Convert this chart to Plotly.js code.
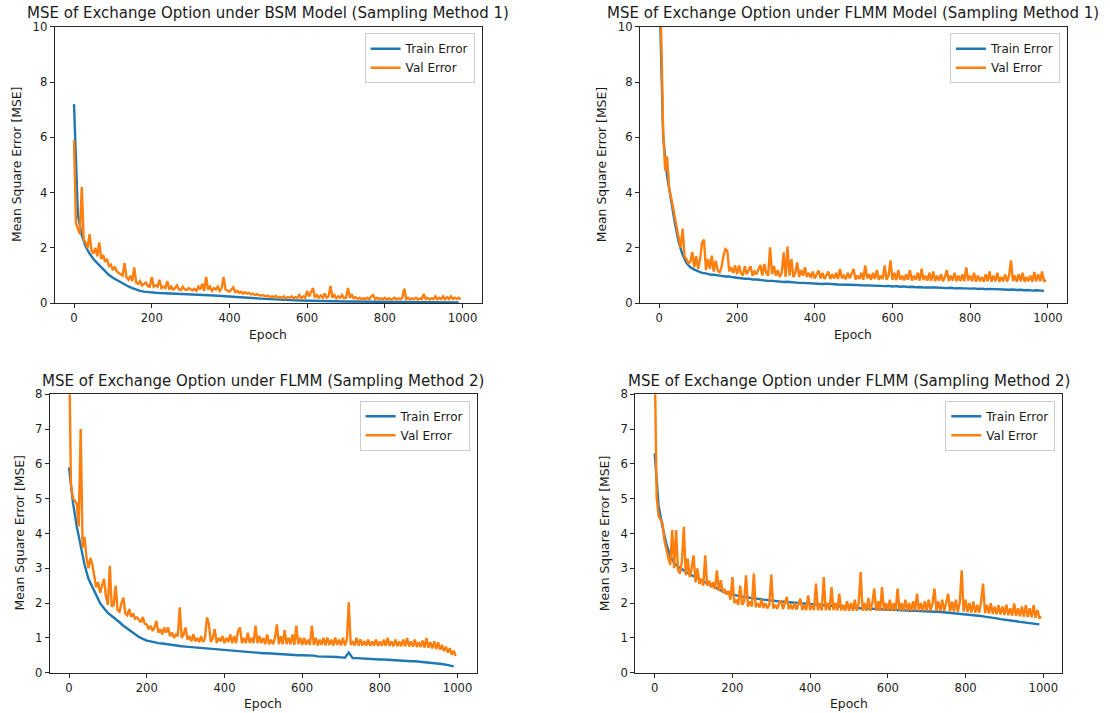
<!DOCTYPE html>
<html>
<head>
<meta charset="utf-8">
<script src="https://cdn.plot.ly/plotly-3.0.1.min.js"></script>
<style>
  html, body { margin: 0; padding: 0; background: #ffffff; }
  #chart { width: 1110px; height: 713px; }
</style>
</head>
<body>
<div id="chart"></div>
<script>
// ---------------- DATA ----------------
const panelTitles = [
  "MSE of Exchange Option under BSM Model (Sampling Method 1)",
  "MSE of Exchange Option under FLMM Model (Sampling Method 1)",
  "MSE of Exchange Option under FLMM (Sampling Method 2)",
  "MSE of Exchange Option under FLMM (Sampling Method 2)"
];
const seriesNames = ["Train Error", "Val Error"];
const xTickVals = [0, 200, 400, 600, 800, 1000];
const yTicksTop = [0, 2, 4, 6, 8, 10];
const yTicksBottom = [0, 1, 2, 3, 4, 5, 6, 7, 8];

// epochs at which values were read (val every 5 epochs, train every 10 epochs)
const epochsVal = Array.from({length: 200}, (_, i) => i * 5);
const epochsTrain = Array.from({length: 100}, (_, i) => i * 10);

// Panel 1: BSM, Sampling Method 1
const trainBSM1 = [
  7.2, 3.2, 2.45, 2.05, 1.8, 1.6, 1.45, 1.3, 1.15, 1.02,
  0.92, 0.84, 0.76, 0.68, 0.61, 0.55, 0.49, 0.45, 0.42, 0.4,
  0.39, 0.38, 0.37, 0.365, 0.355, 0.35, 0.345, 0.335, 0.33, 0.325,
  0.315, 0.31, 0.305, 0.3, 0.29, 0.285, 0.28, 0.272, 0.265, 0.26,
  0.25, 0.24, 0.23, 0.22, 0.21, 0.2, 0.19, 0.18, 0.17, 0.16,
  0.155, 0.15, 0.14, 0.13, 0.125, 0.12, 0.11, 0.105, 0.1, 0.095,
  0.09, 0.088, 0.085, 0.082, 0.08, 0.078, 0.075, 0.072, 0.07, 0.068,
  0.066, 0.064, 0.062, 0.06, 0.058, 0.056, 0.055, 0.054, 0.052, 0.05,
  0.049, 0.048, 0.047, 0.046, 0.045, 0.044, 0.043, 0.042, 0.041, 0.04,
  0.039, 0.038, 0.037, 0.036, 0.035, 0.034, 0.033, 0.032, 0.031, 0.03
];
const valBSM1 = [
  5.9, 2.9, 2.7, 2.5, 4.2, 2.3, 2.2, 2.0, 2.5, 1.9, 1.8, 2.0, 1.7, 2.2, 1.6, 1.75, 1.5, 1.6, 1.35, 1.4,
  1.2, 1.33, 1.15, 1.1, 1.05, 1.0, 1.45, 0.95, 0.85, 1.0, 0.8, 1.3, 0.75, 0.7, 0.8, 0.65, 0.7, 0.75, 0.62, 0.6,
  0.95, 0.6, 0.65, 0.6, 0.85, 0.55, 0.6, 0.55, 0.8, 0.5, 0.6, 0.5, 0.55, 0.65, 0.5, 0.48, 0.6, 0.5, 0.48, 0.55,
  0.5, 0.47, 0.52, 0.45, 0.6, 0.5, 0.7, 0.45, 0.95, 0.5, 0.6, 0.45, 0.55, 0.5, 0.6, 0.45, 0.55, 0.95, 0.5, 0.45,
  0.42, 0.5, 0.58, 0.4, 0.45, 0.38, 0.42, 0.35, 0.4, 0.35, 0.38, 0.32, 0.35, 0.3, 0.33, 0.3, 0.28, 0.3, 0.27, 0.25,
  0.28, 0.22, 0.25, 0.22, 0.27, 0.2, 0.22, 0.2, 0.25, 0.18, 0.22, 0.2, 0.25, 0.18, 0.22, 0.2, 0.3, 0.18, 0.25, 0.2,
  0.45, 0.25, 0.4, 0.55, 0.2, 0.3, 0.2, 0.28, 0.2, 0.35, 0.2, 0.25, 0.63, 0.2, 0.3, 0.18, 0.25, 0.2, 0.3, 0.18,
  0.2, 0.55, 0.2, 0.3, 0.18, 0.22, 0.15, 0.2, 0.15, 0.18, 0.15, 0.2, 0.15, 0.25, 0.3, 0.15, 0.2, 0.15, 0.18, 0.15,
  0.2, 0.14, 0.18, 0.14, 0.16, 0.2, 0.14, 0.18, 0.15, 0.2, 0.53, 0.15, 0.2, 0.14, 0.18, 0.15, 0.2, 0.14, 0.18, 0.15,
  0.34, 0.15, 0.2, 0.14, 0.18, 0.15, 0.25, 0.14, 0.2, 0.15, 0.25, 0.14, 0.22, 0.15, 0.25, 0.15, 0.2, 0.15, 0.2, 0.15
];

// Panel 2: FLMM Model, Sampling Method 1
const trainFLMM1 = [
  11.5, 6.0, 4.6, 3.7, 2.9, 2.2, 1.75, 1.45, 1.3, 1.22,
  1.15, 1.1, 1.08, 1.04, 1.03, 1.0, 0.99, 0.97, 0.97, 0.94,
  0.92, 0.92, 0.89, 0.89, 0.86, 0.86, 0.84, 0.84, 0.81, 0.81,
  0.79, 0.79, 0.77, 0.78, 0.76, 0.76, 0.74, 0.74, 0.73, 0.73,
  0.71, 0.72, 0.7, 0.71, 0.69, 0.69, 0.68, 0.68, 0.67, 0.67,
  0.66, 0.66, 0.65, 0.65, 0.64, 0.64, 0.63, 0.63, 0.62, 0.63,
  0.61, 0.62, 0.6, 0.61, 0.59, 0.6, 0.58, 0.59, 0.57, 0.58,
  0.57, 0.57, 0.56, 0.56, 0.55, 0.56, 0.54, 0.55, 0.54, 0.54,
  0.53, 0.54, 0.52, 0.53, 0.51, 0.52, 0.51, 0.51, 0.5, 0.5,
  0.49, 0.5, 0.48, 0.49, 0.47, 0.48, 0.46, 0.47, 0.45, 0.45
];
const valFLMM1 = [
  13.0, 8.9, 6.2, 4.8, 5.3, 4.2, 3.9, 3.5, 3.1, 2.7, 2.3, 2.0, 2.7, 1.7, 1.6, 1.45, 1.5, 1.85, 1.3, 1.7,
  1.25, 1.6, 2.2, 2.3, 1.2, 1.6, 1.25, 1.72, 1.15, 1.54, 1.2, 1.1, 1.3, 1.72, 1.96, 1.9, 1.15, 1.3, 1.1, 1.37,
  1.05, 1.37, 1.1, 1.0, 1.34, 1.05, 1.2, 1.34, 1.0, 1.15, 1.05, 1.2, 1.39, 1.0, 1.42, 1.1, 1.0, 2.02, 1.05, 1.35,
  1.0, 1.2, 0.95, 1.1, 1.84, 0.95, 2.05, 1.0, 1.6, 0.95, 1.1, 1.48, 0.95, 1.2, 1.0, 1.3, 0.95, 1.1, 0.92, 1.15,
  0.9, 1.05, 1.18, 0.9, 1.1, 0.88, 1.0, 1.15, 0.88, 1.05, 0.9, 1.1, 0.88, 1.24, 0.9, 1.0, 0.87, 1.1, 0.9, 1.05,
  1.24, 0.86, 1.0, 0.88, 1.1, 0.85, 1.37, 0.9, 1.05, 0.85, 1.1, 0.88, 1.2, 0.85, 1.0, 0.88, 1.37, 0.85, 1.0, 1.55,
  0.85, 1.1, 0.84, 1.2, 0.85, 1.0, 0.83, 1.05, 0.85, 1.2, 0.82, 1.0, 0.85, 1.1, 0.82, 1.25, 0.84, 1.0, 0.82, 1.1,
  0.82, 1.15, 0.8, 1.0, 0.82, 1.05, 0.8, 0.95, 1.2, 0.8, 1.0, 0.82, 1.1, 0.8, 1.0, 0.8, 1.05, 0.8, 1.3, 0.82,
  1.0, 0.8, 1.1, 0.78, 1.0, 0.8, 0.95, 0.78, 1.05, 0.8, 1.15, 0.78, 1.0, 0.8, 1.1, 0.78, 0.95, 0.8, 1.05, 0.78,
  1.0, 1.55, 0.8, 1.0, 0.78, 1.05, 0.8, 1.1, 0.78, 0.95, 0.8, 1.0, 0.78, 1.13, 0.8, 1.05, 0.8, 1.15, 0.78, 0.85
];

// Panel 3: FLMM, Sampling Method 2 (left)
const trainFLMM2a = [
  5.9, 4.9, 4.2, 3.6, 3.1, 2.7, 2.45, 2.2, 2.0, 1.85,
  1.72, 1.63, 1.55, 1.45, 1.35, 1.27, 1.18, 1.1, 1.03, 0.97,
  0.92, 0.9, 0.87, 0.85, 0.84, 0.82, 0.8, 0.79, 0.78, 0.76,
  0.75, 0.74, 0.72, 0.72, 0.7, 0.7, 0.68, 0.68, 0.66, 0.66,
  0.64, 0.64, 0.62, 0.62, 0.6, 0.61, 0.59, 0.59, 0.57, 0.57,
  0.56, 0.56, 0.55, 0.55, 0.53, 0.54, 0.52, 0.52, 0.51, 0.5,
  0.5, 0.5, 0.48, 0.49, 0.47, 0.47, 0.46, 0.46, 0.45, 0.45,
  0.44, 0.43, 0.58, 0.42, 0.42, 0.41, 0.4, 0.41, 0.39, 0.39,
  0.38, 0.38, 0.37, 0.37, 0.35, 0.36, 0.34, 0.34, 0.33, 0.33,
  0.32, 0.31, 0.3, 0.3, 0.28, 0.27, 0.25, 0.23, 0.21, 0.18
];
const valFLMM2a = [
  9.5, 5.4, 5.0, 4.95, 4.85, 4.2, 7.0, 3.6, 3.9, 3.3, 3.0, 3.3, 3.1, 2.7, 2.45, 2.6, 2.3, 2.5, 2.7, 2.2,
  1.95, 3.07, 1.9, 1.95, 2.5, 1.8, 1.75, 2.0, 2.16, 1.7, 1.65, 1.83, 1.6, 1.7, 1.55, 1.59, 1.5, 1.45, 1.6, 1.4,
  1.39, 1.25, 1.35, 1.2, 1.3, 1.49, 1.15, 1.25, 1.1, 1.3, 1.15, 1.3, 1.05, 1.15, 1.0, 1.1, 1.05, 1.88, 1.0, 1.1,
  1.3, 0.95, 1.05, 0.9, 1.1, 0.9, 1.0, 0.88, 1.05, 0.88, 1.0, 1.59, 1.4, 0.88, 1.0, 1.25, 0.85, 1.0, 0.9, 1.05,
  0.85, 1.0, 0.88, 1.1, 0.85, 1.05, 0.85, 1.2, 1.3, 0.85, 1.0, 0.85, 1.15, 0.85, 1.0, 0.85, 1.35, 0.85, 1.05, 0.85,
  1.0, 0.82, 1.1, 0.82, 0.95, 0.82, 1.0, 1.39, 0.82, 1.05, 0.82, 1.22, 0.82, 1.0, 0.82, 1.1, 0.8, 1.35, 0.82, 1.0,
  0.8, 1.0, 0.8, 0.95, 0.8, 1.35, 0.8, 1.0, 0.78, 0.95, 0.8, 1.0, 0.78, 1.01, 0.8, 0.95, 0.78, 1.01, 0.8, 0.95,
  0.78, 1.0, 0.78, 0.95, 2.02, 0.8, 0.9, 0.78, 1.0, 0.78, 0.96, 0.78, 0.9, 0.78, 0.95, 0.77, 0.9, 0.78, 0.95, 0.77,
  0.9, 0.77, 0.95, 0.77, 1.0, 0.77, 0.9, 0.76, 0.95, 0.76, 0.9, 0.76, 0.95, 0.76, 1.0, 0.75, 0.9, 0.75, 0.95, 0.74,
  0.88, 0.74, 0.92, 0.72, 1.0, 0.72, 0.88, 0.7, 0.9, 0.68, 0.87, 0.66, 0.8, 0.62, 0.75, 0.58, 0.7, 0.52, 0.63, 0.48
];

// Panel 4: FLMM, Sampling Method 2 (right)
const trainFLMM2b = [
  6.3, 4.8, 4.2, 3.7, 3.35, 3.15, 3.05, 2.97, 2.9, 2.83,
  2.77, 2.71, 2.65, 2.59, 2.53, 2.47, 2.41, 2.36, 2.31, 2.27,
  2.24, 2.21, 2.19, 2.17, 2.16, 2.14, 2.13, 2.12, 2.1, 2.09,
  2.07, 2.06, 2.05, 2.04, 2.03, 2.02, 2.01, 2.0, 1.99, 1.98,
  1.96, 1.95, 1.94, 1.93, 1.92, 1.91, 1.9, 1.9, 1.89, 1.88,
  1.87, 1.87, 1.86, 1.85, 1.85, 1.84, 1.84, 1.83, 1.82, 1.82,
  1.81, 1.81, 1.8, 1.8, 1.79, 1.79, 1.78, 1.78, 1.77, 1.77,
  1.76, 1.76, 1.75, 1.75, 1.74, 1.74, 1.73, 1.72, 1.71, 1.7,
  1.69, 1.68, 1.66, 1.65, 1.63, 1.61, 1.6, 1.58, 1.56, 1.54,
  1.53, 1.51, 1.5, 1.48, 1.46, 1.45, 1.43, 1.42, 1.41, 1.39
];
const valFLMM2b = [
  9.0, 5.05, 4.5, 4.4, 4.3, 3.8, 3.5, 3.3, 3.1, 4.1, 3.0, 4.1, 2.95, 2.85, 3.2, 4.2, 2.8, 3.28, 2.75, 3.0,
  3.37, 2.6, 3.0, 2.55, 2.7, 2.5, 3.37, 2.5, 2.65, 2.45, 2.6, 2.4, 2.94, 2.35, 2.66, 2.3, 2.4, 2.25, 2.35, 2.1,
  2.75, 2.0, 2.1, 1.95, 2.5, 1.95, 2.05, 2.8, 1.9, 2.05, 1.9, 2.85, 1.88, 2.0, 1.87, 2.1, 1.86, 2.0, 1.85, 1.95,
  2.82, 1.85, 1.95, 1.83, 2.0, 2.08, 1.83, 2.0, 2.18, 1.82, 1.95, 1.82, 2.0, 1.81, 2.0, 2.13, 1.8, 1.95, 1.8, 2.22,
  1.8, 1.95, 1.8, 2.56, 1.8, 2.0, 1.79, 2.75, 1.8, 2.0, 1.79, 2.46, 1.8, 2.0, 1.79, 2.27, 1.79, 1.95, 1.78, 2.05,
  1.78, 2.0, 1.78, 2.1, 1.78, 2.0, 2.89, 1.78, 2.0, 1.78, 2.15, 1.78, 2.0, 2.42, 1.78, 2.05, 1.78, 2.46, 1.78, 2.0,
  1.78, 2.1, 1.78, 2.0, 1.78, 2.42, 1.78, 2.0, 1.78, 2.1, 1.78, 2.0, 1.78, 2.05, 1.78, 2.27, 1.78, 2.0, 1.78, 2.05,
  1.78, 2.1, 1.78, 2.0, 2.42, 1.78, 2.05, 1.77, 2.1, 1.77, 2.0, 2.27, 1.76, 2.05, 1.76, 2.1, 1.75, 2.0, 2.94, 1.75,
  2.1, 1.74, 2.0, 1.73, 2.05, 1.72, 1.95, 1.72, 2.05, 2.56, 1.71, 1.95, 1.7, 2.0, 1.69, 1.9, 1.68, 1.94, 1.67, 1.9,
  1.66, 1.95, 1.65, 1.85, 1.64, 1.99, 1.63, 1.85, 1.62, 1.9, 1.61, 1.94, 1.6, 1.85, 1.59, 1.94, 1.58, 1.8, 1.57, 1.6
];

// ---------------- LAYOUT / STYLE ----------------
const W = 1110, H = 713;
const px = v => v / W;
const py = v => 1 - v / H;
const FONT = "DejaVu Sans, Verdana, sans-serif";
const TXT = "#1a1a1a";
const C_TRAIN = "#1f77b4", C_VAL = "#ff7f0e";
const TICK_SIZE = 11.6, LABEL_SIZE = 12.4, TITLE_SIZE = 15, LEGEND_SIZE = 12;

// plot boxes in pixels: [left, right, top, bottom]
const boxes = [
  [54.6, 481.6, 26.7, 303.3],
  [639.9, 1066.9, 26.7, 303.3],
  [49.6, 476.6, 394.3, 672.7],
  [635.3, 1062.3, 394.3, 672.7]
];
const yRanges = [[0, 10], [0, 10], [0, 8], [0, 8]];
const yTicks = [yTicksTop, yTicksTop, yTicksBottom, yTicksBottom];
const trains = [trainBSM1, trainFLMM1, trainFLMM2a, trainFLMM2b];
const vals = [valBSM1, valFLMM1, valFLMM2a, valFLMM2b];
const yLabelOffset = [38.6, 38.6, 30.6, 30.6];

const traces = [];
const layout = {
  width: W, height: H,
  margin: {l: 0, r: 0, t: 0, b: 0},
  paper_bgcolor: "#ffffff",
  plot_bgcolor: "#ffffff",
  font: {family: FONT, size: TICK_SIZE, color: TXT},
  annotations: [],
  showlegend: true
};

for (let i = 0; i < 4; i++) {
  const [L, R, T, B] = boxes[i];
  const sfx = i === 0 ? "" : String(i + 1);
  const legendId = "legend" + sfx;
  traces.push({
    x: epochsTrain, y: trains[i], type: "scatter", mode: "lines",
    name: seriesNames[0], line: {color: C_TRAIN, width: 2.4},
    xaxis: "x" + sfx, yaxis: "y" + sfx, legend: legendId
  });
  traces.push({
    x: epochsVal, y: vals[i], type: "scatter", mode: "lines",
    name: seriesNames[1], line: {color: C_VAL, width: 2.4},
    xaxis: "x" + sfx, yaxis: "y" + sfx, legend: legendId
  });
  const axCommon = {
    showgrid: false, zeroline: false,
    showline: true, mirror: true, linecolor: "#262626", linewidth: 1,
    ticks: "outside", ticklen: 4, tickwidth: 1, tickcolor: "#262626",
    tickfont: {family: FONT, size: TICK_SIZE, color: TXT},
    fixedrange: true
  };
  layout["xaxis" + sfx] = Object.assign({}, axCommon, {
    domain: [px(L), px(R)],
    range: [-49.95, 1048.95],
    tickmode: "array", tickvals: xTickVals,
    anchor: "y" + sfx
  });
  layout["yaxis" + sfx] = Object.assign({}, axCommon, {
    domain: [py(B), py(T)],
    range: yRanges[i],
    tickmode: "array", tickvals: yTicks[i],
    anchor: "x" + sfx
  });
  layout[legendId] = {
    x: px(R - 7), y: py(T + 6.5), xanchor: "right", yanchor: "top",
    bgcolor: "rgba(255,255,255,0.8)", bordercolor: "#cccccc", borderwidth: 1,
    font: {family: FONT, size: LEGEND_SIZE, color: TXT},
    tracegroupgap: 0
  };
  // panel title
  layout.annotations.push({
    text: panelTitles[i], xref: "paper", yref: "paper",
    x: px((L + R) / 2), y: py(T - 13.5), xanchor: "center", yanchor: "middle",
    showarrow: false, font: {family: FONT, size: TITLE_SIZE, color: TXT}
  });
  // x axis title
  layout.annotations.push({
    text: "Epoch", xref: "paper", yref: "paper",
    x: px((L + R) / 2), y: py(B + 31), xanchor: "center", yanchor: "middle",
    showarrow: false, font: {family: FONT, size: LABEL_SIZE, color: TXT}
  });
  // y axis title
  layout.annotations.push({
    text: "Mean Square Error [MSE]", xref: "paper", yref: "paper",
    x: px(L - yLabelOffset[i]), y: py((T + B) / 2), xanchor: "center", yanchor: "middle",
    textangle: -90, showarrow: false, font: {family: FONT, size: LABEL_SIZE, color: TXT}
  });
}

Plotly.newPlot("chart", traces, layout, {displayModeBar: false, staticPlot: true});
</script>
</body>
</html>
